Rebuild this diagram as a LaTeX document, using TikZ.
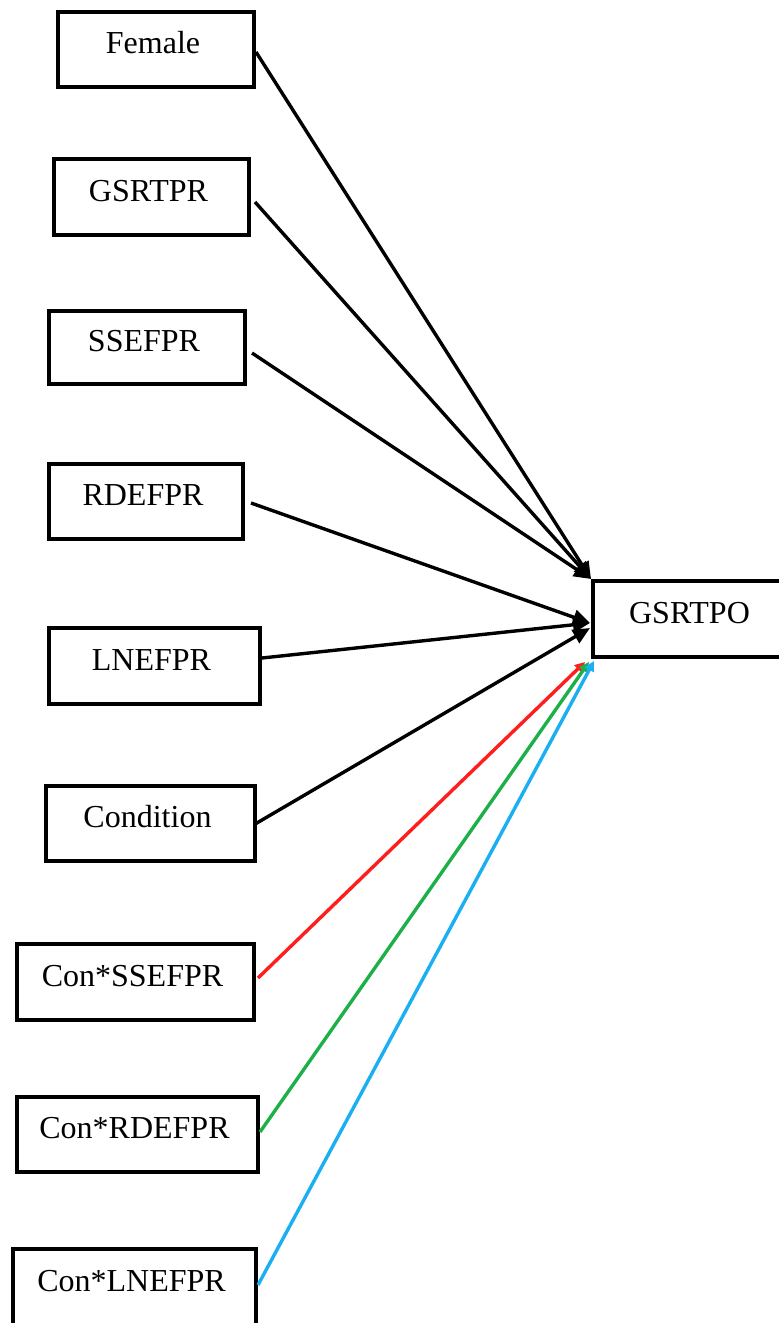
\documentclass[tikz,border=0pt]{standalone}
\usepackage{fontspec}
\setmainfont{Liberation Serif}
\usetikzlibrary{arrows.meta,calc}
\definecolor{redline}{RGB}{255,30,30}
\definecolor{greenline}{RGB}{30,176,72}
\definecolor{blueline}{RGB}{25,175,240}
\begin{document}
\begin{tikzpicture}[x=1pt,y=-1pt,
  box/.style={draw=black,line width=3.8pt,fill=white,inner sep=0pt,outer sep=0pt},
  lbl/.style={anchor=base,inner sep=0pt,font=\fontsize{32}{36}\selectfont},
  path/.style={line width=3.4pt,-{Triangle[length=17pt,width=15pt]}},
  cpath/.style={line width=3.4pt,-{Triangle[length=10pt,width=10pt]}}]
\useasboundingbox (0,0) rectangle (779,1323);

% predictor boxes
\node[box,minimum width=196pt,minimum height=75pt] (female) at (156,49.5) {};
\node[box,minimum width=195pt,minimum height=76pt] (gsrtpr) at (151.5,197) {};
\node[box,minimum width=196pt,minimum height=73pt] (ssefpr) at (147,347.5) {};
\node[box,minimum width=194pt,minimum height=75pt] (rdefpr) at (146,501.5) {};
\node[box,minimum width=211pt,minimum height=76pt] (lnefpr) at (154.5,666) {};
\node[box,minimum width=209pt,minimum height=75pt] (cond) at (150.5,823.5) {};
\node[box,minimum width=237pt,minimum height=76pt] (cssef) at (135.5,982) {};
\node[box,minimum width=241pt,minimum height=75pt] (crdef) at (137.5,1134.5) {};
\node[box,minimum width=243pt,minimum height=77pt] (clnef) at (134.5,1287.5) {};
% outcome box
\node[box,minimum width=197pt,minimum height=76pt] (gsrtpo) at (691.5,619) {};

% labels
\node[lbl] (tfemale) at ($(female.center)+(-3,4)$) {Female};
\node[lbl] (tgsrtpr) at ($(gsrtpr.center)+(-3,4)$) {GSRTPR};
\node[lbl] (tssefpr) at ($(ssefpr.center)+(-3,4)$) {SSEFPR};
\node[lbl] (trdefpr) at ($(rdefpr.center)+(-3,4)$) {RDEFPR};
\node[lbl] (tlnefpr) at ($(lnefpr.center)+(-3,4)$) {LNEFPR};
\node[lbl] (tcond) at ($(cond.center)+(-3,4)$) {Condition};
\node[lbl] (tcssef) at ($(cssef.center)+(-3,4)$) {Con*SSEFPR};
\node[lbl] (tcrdef) at ($(crdef.center)+(-3,4)$) {Con*RDEFPR};
\node[lbl] (tclnef) at ($(clnef.center)+(-3,4)$) {Con*LNEFPR};
\node[lbl] (tgsrtpo) at ($(gsrtpo.center)+(-2,4)$) {GSRTPO};

% arrow targets on the outcome box
\coordinate (tipTop) at ($(gsrtpo.north west)+(-2,-2)$);
\coordinate (tipMid) at ($(gsrtpo.west)+(-3,4)$);
\coordinate (tipCond) at ($(gsrtpo.west)+(-3,9)$);
\coordinate (tipRed) at ($(gsrtpo.south west)+(-8,5)$);
\coordinate (tipGreen) at ($(gsrtpo.south west)+(-4,5)$);
\coordinate (tipBlue) at ($(gsrtpo.south west)+(1,4)$);

% main effects
\draw[path] ($(female.east)+(2,2.5)$) -- (tipTop);
\draw[path] ($(gsrtpr.east)+(6,5)$) -- (tipTop);
\draw[path] ($(ssefpr.east)+(7,5.5)$) -- (tipTop);
\draw[path] ($(rdefpr.east)+(8,1.5)$) -- (tipMid);
\draw[path] ($(lnefpr.east)+(2,-8)$) -- (tipMid);
\draw[path] ($(cond.east)+(1,0)$) -- (tipCond);

% interaction effects
\draw[cpath,redline] ($(cssef.east)+(4,-4)$) -- (tipRed);
\draw[cpath,greenline] ($(crdef.east)+(2,-2.5)$) -- (tipGreen);
\draw[cpath,blueline] ($(clnef.east)+(2,-2.5)$) -- (tipBlue);
\end{tikzpicture}
\end{document}
